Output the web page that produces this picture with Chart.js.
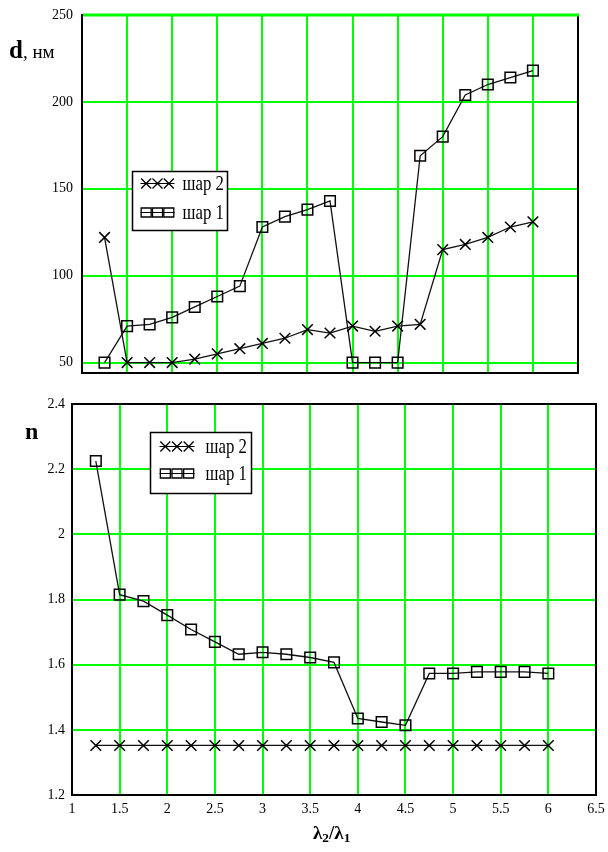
<!DOCTYPE html>
<html>
<head>
<meta charset="utf-8">
<script src="https://cdn.jsdelivr.net/npm/chart.js@4/dist/chart.umd.min.js"></script>
<style>
  html, body { margin: 0; padding: 0; background: #fff; }
  body { width: 608px; height: 852px; position: relative; overflow: hidden; font-family: 'Liberation Serif', 'DejaVu Serif', serif; }
  .wrap { position: absolute; left: 0; width: 608px; }
  #dWrap { top: 0; height: 390px; }
  #nWrap { top: 390px; height: 462px; }
  .lbl { position: absolute; color: #000; white-space: nowrap; line-height: 1; }
  .lbl sub { font-size: 70%; vertical-align: -0.25em; }
</style>
</head>
<body>
<div id="dWrap" class="wrap"><canvas id="dChart"></canvas></div>
<div id="nWrap" class="wrap"><canvas id="nChart"></canvas></div>
<div class="lbl" style="left:9px;top:37px"><b style="font-size:25px">d</b><span style="font-size:19px">, нм</span></div>
<div class="lbl" style="left:25px;top:419px"><b style="font-size:24px">n</b></div>
<div class="lbl" style="left:313px;top:823px;font-weight:bold;font-size:19px">λ<sub>2</sub>/λ<sub>1</sub></div>

<script>
// wavelength ratio λ2/λ1
const lambdaRatio = [1.25, 1.5, 1.75, 2.0, 2.25, 2.5, 2.75, 3.0, 3.25, 3.5,
                     3.75, 4.0, 4.25, 4.5, 4.75, 5.0, 5.25, 5.5, 5.75, 6.0];

// layer thickness d, nm
const dLayer2 = [122, 50, 50, 50, 52, 55, 58, 61, 64, 69,
                 67, 71, 68, 71, 72, 115, 118, 122, 128, 131];
const dLayer1 = [50, 71, 72, 76, 82, 88, 94, 128, 134, 138,
                 143, 50, 50, 50, 169, 180, 204, 210, 214, 218];

// refractive index n
const nLayer2 = [1.352, 1.352, 1.352, 1.352, 1.352, 1.352, 1.352, 1.352, 1.352, 1.352,
                 1.352, 1.352, 1.352, 1.352, 1.352, 1.352, 1.352, 1.352, 1.352, 1.352];
const nLayer1 = [2.225, 1.815, 1.795, 1.752, 1.708, 1.670, 1.632, 1.638, 1.632, 1.622,
                 1.607, 1.435, 1.424, 1.414, 1.573, 1.573, 1.578, 1.578, 1.578, 1.573];

const layerNames = ['шар 2', 'шар 1'];
const dTicks = [50, 100, 150, 200, 250];

const GRID = '#00ff00';
const tickFont = { family: "'Liberation Serif', serif", size: 14 };
const plainNumber = v => String(Number(Number(v).toFixed(2)));

function points(ys) {
  return lambdaRatio.map((x, i) => ({ x: x, y: ys[i] }));
}

function series(label, ys, style) {
  return {
    label: label,
    data: points(ys),
    borderColor: '#111',
    borderWidth: 1.3,
    pointStyle: style,
    pointRadius: 7.5,
    pointHoverRadius: 7.5,
    pointBorderColor: '#000',
    pointBorderWidth: 1.5,
    pointBackgroundColor: 'rgba(0,0,0,0)',
    fill: false,
    tension: 0
  };
}

// black frame round the plot area (top edge optionally in grid colour)
const framePlugin = {
  id: 'frame',
  beforeDatasetsDraw(chart, args, opts) {
    const { ctx, chartArea: a } = chart;
    ctx.save();
    ctx.strokeStyle = '#000';
    ctx.lineWidth = 2;
    ctx.strokeRect(a.left, a.top, a.right - a.left, a.bottom - a.top);
    if (opts.topColor) {
      ctx.strokeStyle = opts.topColor;
      ctx.lineWidth = 3;
      ctx.beginPath();
      ctx.moveTo(a.left + 1, a.top);
      ctx.lineTo(a.right + 1, a.top);
      ctx.stroke();
    }
    ctx.restore();
  }
};

// boxed legend inside the plot area
const boxLegendPlugin = {
  id: 'boxLegend',
  afterDatasetsDraw(chart, args, opts) {
    const { ctx, chartArea: a } = chart;
    const x = Math.round(a.left + opts.dx) + 0.5;
    const y = Math.round(a.top + opts.dy) + 0.5;
    ctx.save();
    ctx.fillStyle = '#fff';
    ctx.fillRect(x, y, opts.w, opts.h);
    ctx.strokeStyle = '#000';
    ctx.lineWidth = 1.5;
    ctx.strokeRect(x, y, opts.w, opts.h);

    chart.data.datasets.forEach((ds, r) => {
      const cy = y + opts.rowY[r];
      const sx = x + opts.sampleX;
      const sw = opts.sampleW;
      ctx.strokeStyle = '#000';
      ctx.lineWidth = 1.2;
      ctx.beginPath();
      ctx.moveTo(sx, cy);
      ctx.lineTo(sx + sw, cy);
      ctx.stroke();
      for (let k = 0; k < 3; k++) {
        const px = sx + sw * (k + 0.5) / 3;
        ctx.beginPath();
        if (ds.pointStyle === 'rect') {
          ctx.rect(px - 5, cy - 4.5, 10, 9);
        } else {
          ctx.moveTo(px - 5, cy - 5); ctx.lineTo(px + 5, cy + 5);
          ctx.moveTo(px + 5, cy - 5); ctx.lineTo(px - 5, cy + 5);
        }
        ctx.lineWidth = 1.3;
        ctx.stroke();
      }
      ctx.save();
      ctx.translate(x + opts.textX, cy);
      ctx.scale(0.8, 1);
      ctx.fillStyle = '#000';
      ctx.font = "21px 'Liberation Serif', serif";
      ctx.textBaseline = 'middle';
      ctx.textAlign = 'left';
      ctx.fillText(ds.label, 0, 1);
      ctx.restore();
    });
    ctx.restore();
  }
};

function baseX(showTicks, h) {
  return {
    type: 'linear',
    min: 1,
    max: 6.5,
    ticks: { display: showTicks, stepSize: 0.5, font: tickFont, color: '#000', padding: 6,
             maxRotation: 0, autoSkip: false, callback: plainNumber },
    grid: { color: GRID, lineWidth: 2, drawTicks: false },
    border: { display: false },
    afterFit(s) { s.height = h; s.paddingLeft = 0; s.paddingRight = 0; }
  };
}

const dChart = new Chart(document.getElementById('dChart'), {
  type: 'line',
  data: {
    datasets: [
      series(layerNames[0], dLayer2, 'crossRot'),
      series(layerNames[1], dLayer1, 'rect')
    ]
  },
  options: {
    responsive: true,
    maintainAspectRatio: false,
    animation: false,
    layout: { padding: { left: 0, right: 30, top: 15, bottom: 17 } },
    scales: {
      x: baseX(false, 0),
      y: {
        type: 'linear',
        min: 44,
        max: 250,
        ticks: { stepSize: 50, font: tickFont, color: '#000', padding: 9, callback: plainNumber },
        afterBuildTicks(s) { s.ticks = dTicks.map(v => ({ value: v })); },
        grid: { color: GRID, lineWidth: 2, drawTicks: false },
        border: { display: false },
        afterFit(s) { s.width = 82; s.paddingTop = 0; s.paddingBottom = 0; }
      }
    },
    plugins: {
      legend: { display: false },
      tooltip: { enabled: false },
      frame: { topColor: GRID },
      boxLegend: { dx: 50, dy: 156, w: 95, h: 59, rowY: [12, 41], sampleX: 8, sampleW: 34, textX: 50 }
    }
  },
  plugins: [framePlugin, boxLegendPlugin]
});

const nChart = new Chart(document.getElementById('nChart'), {
  type: 'line',
  data: {
    datasets: [
      series(layerNames[0], nLayer2, 'crossRot'),
      series(layerNames[1], nLayer1, 'rect')
    ]
  },
  options: {
    responsive: true,
    maintainAspectRatio: false,
    animation: false,
    layout: { padding: { left: 0, right: 12, top: 14, bottom: 32 } },
    scales: {
      x: baseX(true, 25),
      y: {
        type: 'linear',
        min: 1.2,
        max: 2.4,
        ticks: { stepSize: 0.2, font: tickFont, color: '#000', padding: 7, callback: plainNumber },
        grid: { color: GRID, lineWidth: 2, drawTicks: false },
        border: { display: false },
        afterFit(s) { s.width = 72; s.paddingTop = 0; s.paddingBottom = 0; }
      }
    },
    plugins: {
      legend: { display: false },
      tooltip: { enabled: false },
      frame: {},
      boxLegend: { dx: 78, dy: 28, w: 101, h: 61, rowY: [14, 41], sampleX: 9, sampleW: 35, textX: 55 }
    }
  },
  plugins: [framePlugin, boxLegendPlugin]
});
</script>
</body>
</html>
